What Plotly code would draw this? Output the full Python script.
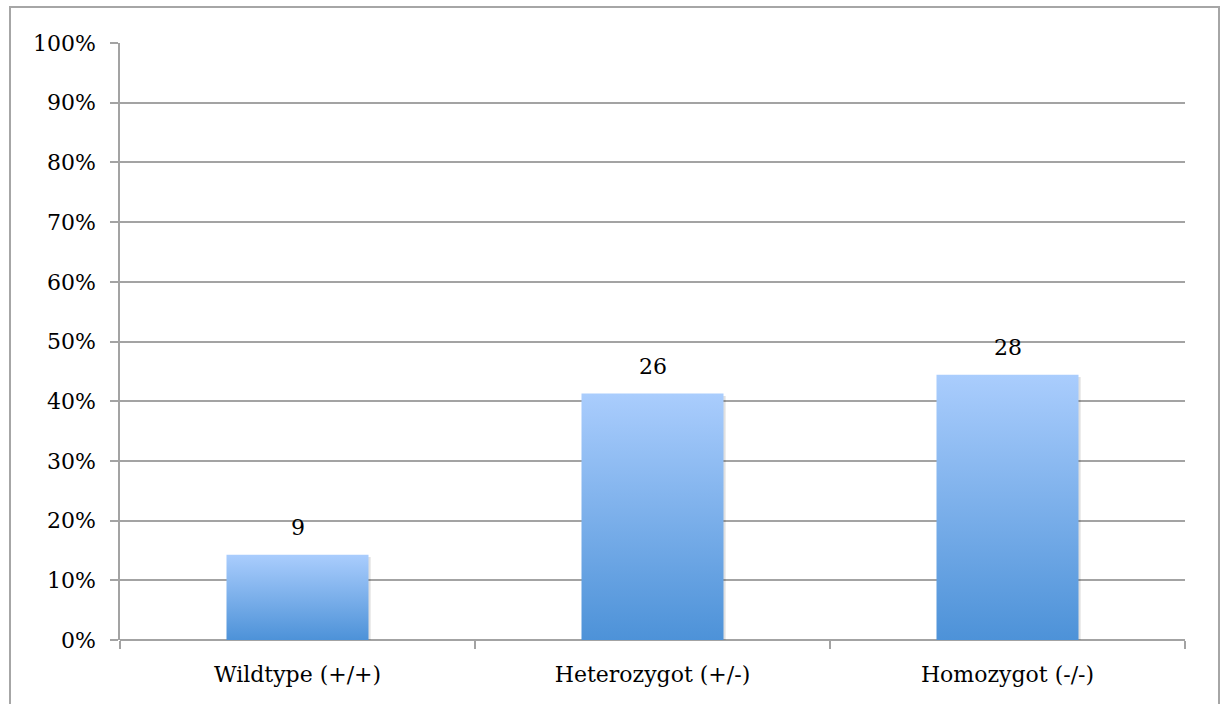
import plotly.graph_objects as go

# Genotype counts and their share of all animals
categories = ["Wildtype (+/+)", "Heterozygot (+/-)", "Homozygot (-/-)"]
counts = [9, 26, 28]
total = sum(counts)
shares = [c / total for c in counts]

bar_width = 0.4
grid = "#a3a3a3"
font_family = "DejaVu Serif"

fig = go.Figure()

# Each bar is a filled polygon so it can carry a vertical gradient
for i, (share, count) in enumerate(zip(shares, counts)):
    cx = i + 0.5
    x0, x1 = cx - bar_width / 2, cx + bar_width / 2
    fig.add_trace(go.Scatter(
        x=[x0 + 0.006, x1 + 0.006, x1 + 0.006, x0 + 0.006, x0 + 0.006],
        y=[-0.004, -0.004, share - 0.004, share - 0.004, -0.004],
        fill="toself", mode="lines", line=dict(width=0),
        fillcolor="rgba(0,0,0,0.12)", hoverinfo="skip", showlegend=False,
    ))
    fig.add_trace(go.Scatter(
        x=[x0, x1, x1, x0, x0],
        y=[0, 0, share, share, 0],
        fill="toself", mode="lines", line=dict(width=0),
        fillgradient=dict(type="vertical",
                          colorscale=[[0, "#4d92d8"], [1, "#aacdfd"]]),
        hoverinfo="skip", showlegend=False,
    ))
    fig.add_annotation(x=cx, y=share, text=str(count), showarrow=False,
                       yshift=27, font=dict(size=22, color="#000"))

fig.update_layout(
    width=1229, height=704,
    margin=dict(l=120, r=44, t=43, b=64),
    paper_bgcolor="white", plot_bgcolor="white",
    font=dict(family=font_family, size=22, color="#000"),
    xaxis=dict(
        range=[0, 3], tickmode="array",
        tickvals=[0.5, 1.5, 2.5], ticktext=categories,
        ticks="", showgrid=False, zeroline=False,
        showline=False,
        minor=dict(tickmode="linear", tick0=0, dtick=1, ticks="outside",
                   ticklen=8, tickcolor=grid, tickwidth=1.5, showgrid=False),
        ticklabelstandoff=19,
    ),
    yaxis=dict(
        range=[0, 1], dtick=0.1, tickformat=".0%",
        showgrid=True, gridcolor=grid, gridwidth=1.5,
        zeroline=True, zerolinecolor=grid, zerolinewidth=1.5,
        showline=True, linecolor=grid, linewidth=1.5,
        ticks="outside", ticklen=8, tickcolor=grid, tickwidth=1.5,
        ticklabelstandoff=10,
    ),
)

# Outer chart frame (open at the bottom edge of the page)
fig.add_shape(type="rect", xref="paper", yref="paper",
              x0=(10 - 120) / 1065, x1=(1219 - 120) / 1065,
              y0=-0.2, y1=(640 - 7) / 597,
              line=dict(color="#a6a6a6", width=2), layer="below")

fig.write_html("out.html")
